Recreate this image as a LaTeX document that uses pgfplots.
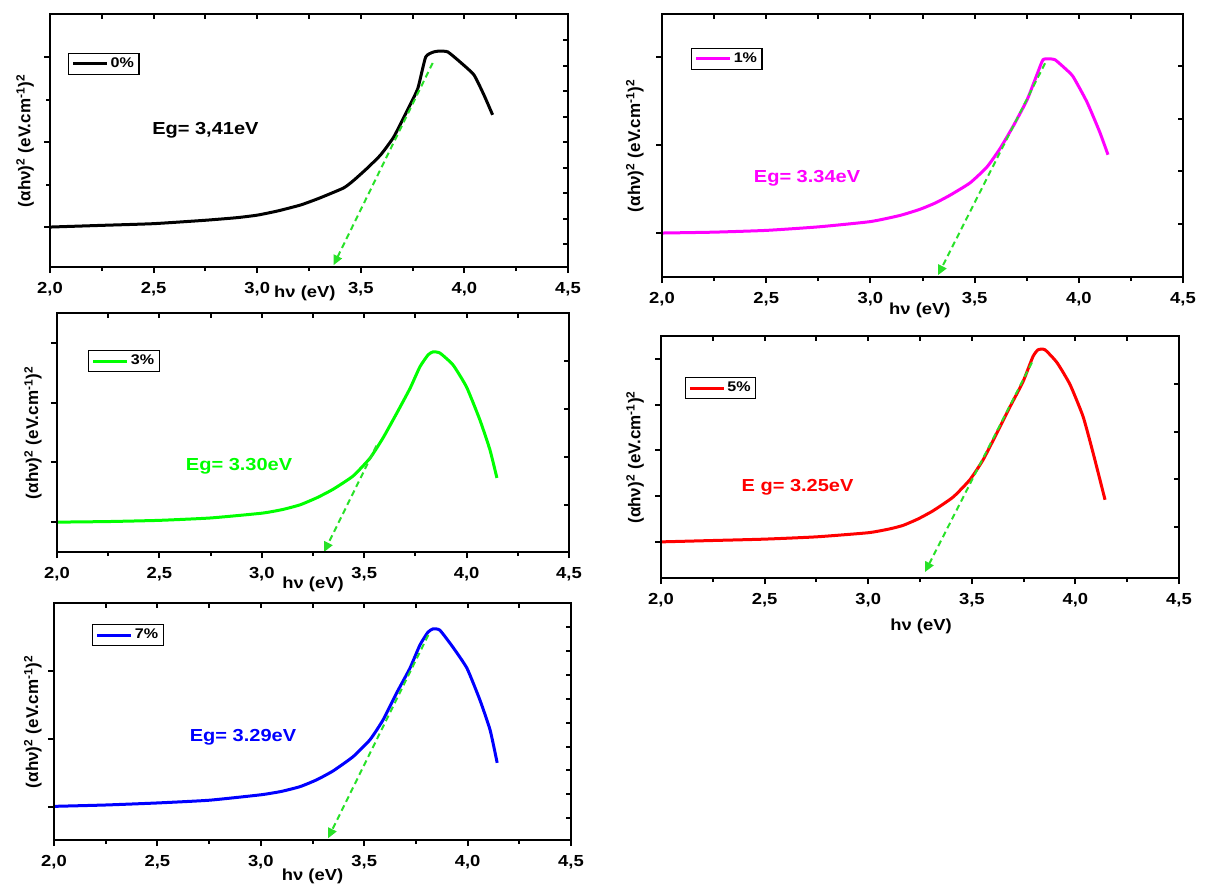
\documentclass[border=0pt]{standalone}
\usepackage{pgfplots}
\pgfplotsset{compat=1.18}
\usepackage{fontspec}
\setmainfont{Liberation Sans}[FakeStretch=1.15]
\newfontfamily\ylfont{Liberation Sans}
\usetikzlibrary{arrows.meta}
\definecolor{cmag}{RGB}{255,0,255}
\definecolor{clime}{RGB}{0,255,0}
\definecolor{ctan}{RGB}{40,225,40}
\definecolor{cred}{RGB}{255,0,0}
\definecolor{cblue}{RGB}{0,0,255}

\tikzset{egfont/.style={font=\bfseries\fontsize{8.7}{10}\selectfont}}

\pgfplotsset{
  panel/.style={
    scale only axis,
    xmin=2, xmax=4.5,
    xtick={2,2.5,3,3.5,4,4.5},
    xticklabels={{2,0},{2,5},{3,0},{3,5},{4,0},{4,5}},
    minor x tick num=1,
    xtick pos=left, ytick pos=left,
    tick align=outside,
    yticklabels={},
    axis line style={line width=1.3pt},
    every tick/.style={black, line width=1pt},
    major tick length=3pt, minor tick length=2pt,
    xticklabel style={font=\bfseries\fontsize{8}{9}\selectfont, yshift=-1pt},
    label style={font=\bfseries\fontsize{8}{9}\selectfont},
    ylabel style={font=\ylfont\bfseries\fontsize{8.5}{9}\selectfont},
    ylabel={(αhν)\textsuperscript{2} (eV.cm\textsuperscript{-1})\textsuperscript{2}},
    xlabel={hν (eV)},
    legend style={anchor=north west, draw=black, line width=0.6pt,
      font=\bfseries\fontsize{7}{8}\selectfont, inner xsep=1.5pt, inner ysep=1pt,
      nodes={inner sep=1pt}},
    legend cell align=left,
    legend image code/.code={\draw[#1, line width=1.5pt] (0pt,0pt) -- (17pt,0pt);},
  },
  panelov/.style={
    scale only axis,
    xmin=2, xmax=4.5,
    xtick={2,2.25,...,4.5},
    xtick pos=right, ytick pos=right,
    tick align=inside,
    xticklabels={}, yticklabels={},
    axis line style={line width=1.3pt},
    every tick/.style={black, line width=1pt},
    major tick length=2.5pt,
  },
  curve/.style={line width=1.5pt, smooth, tension=0.3},
  tang/.style={ctan, line width=1pt, dash pattern=on 3pt off 2pt, -{Triangle[length=5pt,width=4.5pt]}},
}

\begin{document}
\begin{tikzpicture}
\useasboundingbox (0,0) rectangle (606.5pt,-445.5pt);

% ---------- Panel 1: 0% ----------
\begin{axis}[panel, at={(25pt,-133.5pt)}, anchor=south west,
  width=259pt, height=126.5pt, ymin=-0.47, ymax=2.506,
  ytick={0,1,2}, minor y tick num=1,
  ylabel style={at={(axis description cs:-0.048,0.5)}, anchor=center},
  xlabel style={at={(axis description cs:0.492,-0.103)}, anchor=center},
  legend style={at={(axis description cs:0.035,0.846)}}]
\addplot[black, curve] coordinates {
(2.0,0) (2.25,0.02) (2.5,0.04) (2.75,0.08) (2.9,0.11) (3.0,0.14) (3.1,0.19) (3.21,0.26)
(3.3,0.34) (3.417,0.46) (3.466,0.55) (3.53,0.69) (3.596,0.85) (3.659,1.06)
(3.726,1.38) (3.775,1.63) (3.813,2.0) (3.852,2.06) (3.88,2.07) (3.92,2.06)
(3.98,1.94) (4.046,1.79) (4.095,1.55) (4.136,1.32)};
\addlegendentry{0\%}
\addplot[tang, forget plot] coordinates {(3.847,1.93) (3.368,-0.45)};
\node[egfont, text=black] at (axis cs:2.75,1.14) {Eg= 3,41eV};
\end{axis}
\begin{axis}[panelov, at={(25pt,-133.5pt)}, anchor=south west,
  width=259pt, height=126.5pt, ymin=-0.47, ymax=2.506,
  ytick={-0.2,0.1,0.4,0.7,1.0,1.3,1.6,1.9,2.2}]
\end{axis}

% ---------- Panel 2: 1% ----------
\begin{axis}[panel, at={(331pt,-138.5pt)}, anchor=south west,
  width=260.5pt, height=131.5pt, ymin=-0.5, ymax=2.49,
  ytick={0,1,2},
  ylabel style={at={(axis description cs:-0.052,0.5)}, anchor=center},
  xlabel style={at={(axis description cs:0.495,-0.125)}, anchor=center},
  legend style={at={(axis description cs:0.056,0.871)}}]
\addplot[cmag, curve] coordinates {
(2.0,0) (2.25,0.01) (2.5,0.03) (2.75,0.07) (3.0,0.13) (3.142,0.2) (3.238,0.27)
(3.31,0.34) (3.382,0.43) (3.478,0.57) (3.559,0.75) (3.622,0.96) (3.684,1.21)
(3.751,1.51) (3.799,1.8) (3.828,1.97) (3.86,1.98) (3.886,1.97) (3.93,1.88)
(3.972,1.78) (4.039,1.49) (4.1,1.15) (4.14,0.89)};
\addlegendentry{1\%}
\addplot[tang, forget plot] coordinates {(3.838,1.93) (3.324,-0.48)};
\node[egfont, text=cmag] at (axis cs:2.696,0.625) {Eg= 3.34eV};
\end{axis}
\begin{axis}[panelov, at={(331pt,-138.5pt)}, anchor=south west,
  width=260.5pt, height=131.5pt, ymin=-0.5, ymax=2.49,
  ytick={0.1,0.7,1.3,1.9}]
\end{axis}

% ---------- Panel 3: 3% ----------
\begin{axis}[panel, at={(28.5pt,-276pt)}, anchor=south west,
  width=256pt, height=119.5pt, ymin=-0.5, ymax=3.5,
  ytick={0,1,2,3},
  ylabel style={at={(axis description cs:-0.047,0.5)}, anchor=center},
  xlabel style={at={(axis description cs:0.5,-0.134)}, anchor=center},
  legend style={at={(axis description cs:0.061,0.845)}}]
\addplot[clime, curve] coordinates {
(2.0,0) (2.25,0.01) (2.5,0.03) (2.75,0.07) (3.0,0.15) (3.1,0.21) (3.187,0.29) (3.27,0.41)
(3.348,0.55) (3.445,0.77) (3.528,1.07) (3.592,1.41) (3.66,1.83) (3.724,2.24)
(3.772,2.6) (3.812,2.8) (3.836,2.85) (3.87,2.83) (3.934,2.63) (4.0,2.26)
(4.065,1.71) (4.114,1.21) (4.148,0.74)};
\addlegendentry{3\%}
\addplot[tang, forget plot] coordinates {(3.56,1.28) (3.304,-0.5)};
\node[egfont, text=clime] at (axis cs:2.889,0.94) {Eg= 3.30eV};
\end{axis}
\begin{axis}[panelov, at={(28.5pt,-276pt)}, anchor=south west,
  width=256pt, height=119.5pt, ymin=-0.5, ymax=3.5,
  ytick={0.28,1.09,1.9,2.7}]
\end{axis}

% ---------- Panel 4: 5% ----------
\begin{axis}[panel, at={(330.5pt,-289pt)}, anchor=south west,
  width=259pt, height=121pt, ymin=-0.79, ymax=4.5,
  ytick={0,1,2,3,4},
  ylabel style={at={(axis description cs:-0.05,0.5)}, anchor=center},
  xlabel style={at={(axis description cs:0.502,-0.2)}, anchor=center},
  legend style={at={(axis description cs:0.046,0.83)}}]
\addplot[cred, curve] coordinates {
(2.0,0) (2.25,0.03) (2.5,0.06) (2.75,0.11) (3.0,0.2) (3.1,0.28) (3.168,0.36)
(3.24,0.5) (3.313,0.68) (3.41,0.98) (3.491,1.36) (3.554,1.79) (3.621,2.38)
(3.684,2.95) (3.747,3.5) (3.795,4.05) (3.82,4.2) (3.853,4.2) (3.911,3.92)
(3.974,3.44) (4.037,2.74) (4.085,1.95) (4.143,0.92)};
\addlegendentry{5\%}
\addplot[tang, forget plot] coordinates {(3.79,3.92) (3.274,-0.66)};
\node[egfont, text=cred] at (axis cs:2.659,1.2) {E g= 3.25eV};
\end{axis}
\begin{axis}[panelov, at={(330.5pt,-289pt)}, anchor=south west,
  width=259pt, height=121pt, ymin=-0.79, ymax=4.5,
  ytick={0.33,1.37,2.41,3.45}]
\end{axis}

% ---------- Panel 5: 7% ----------
\begin{axis}[panel, at={(27pt,-420pt)}, anchor=south west,
  width=258.5pt, height=118.5pt, ymin=-0.485, ymax=3.0,
  ytick={0,1,2},
  ylabel style={at={(axis description cs:-0.041,0.5)}, anchor=center},
  xlabel style={at={(axis description cs:0.5,-0.152)}, anchor=center},
  legend style={at={(axis description cs:0.074,0.911)}}]
\addplot[cblue, curve] coordinates {
(2.0,0.01) (2.25,0.03) (2.5,0.06) (2.75,0.1) (3.0,0.18) (3.1,0.23) (3.19,0.3) (3.27,0.4)
(3.349,0.53) (3.446,0.74) (3.528,0.99) (3.591,1.28) (3.659,1.69) (3.721,2.04)
(3.769,2.38) (3.808,2.57) (3.833,2.62) (3.866,2.6) (3.929,2.35) (3.997,2.04)
(4.06,1.57) (4.109,1.13) (4.143,0.65)};
\addlegendentry{7\%}
\addplot[tang, forget plot] coordinates {(3.81,2.53) (3.325,-0.46)};
\node[egfont, text=cblue] at (axis cs:2.914,1.03) {Eg= 3.29eV};
\end{axis}
\begin{axis}[panelov, at={(27pt,-420pt)}, anchor=south west,
  width=258.5pt, height=118.5pt, ymin=-0.485, ymax=3.0,
  ytick={-0.16,0.19,0.54,0.89,1.24,1.59,1.94,2.29,2.64}]
\end{axis}

\end{tikzpicture}
\end{document}
